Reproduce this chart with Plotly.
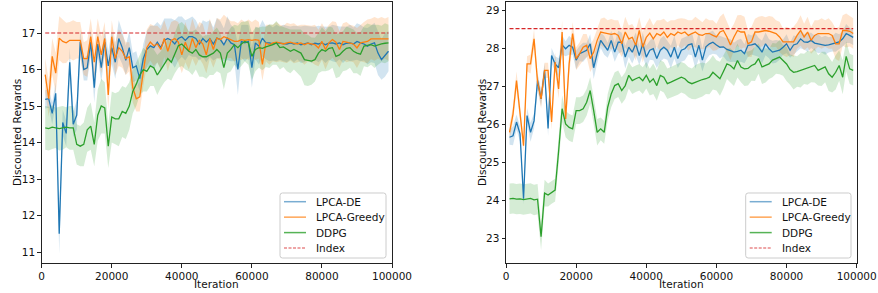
import plotly.graph_objects as go

# ---------------- data ----------------
iterations = list(range(1000, 100000, 1000))  # 99 points

series_names = ["LPCA-DE", "LPCA-Greedy", "DDPG"]
index_name = "Index"
index_left = 17.0
index_right = 28.53

left_de = [15.18,15.2,14.8,15.35,11.5,14.55,14.25,16.2,14.5,14.75,
16.75,16.0,16.05,16.75,15.5,16.7,16.05,16.75,16.1,16.6,
16.2,16.85,16.6,16.25,16.6,16.05,16.1,15.75,16.3,16.55,
16.65,16.6,16.75,16.6,16.8,16.85,16.8,16.7,16.85,16.9,
16.8,16.9,16.9,16.85,16.7,16.85,16.75,16.85,16.7,16.86,
16.82,16.68,16.86,16.73,16.68,16.0,16.77,16.73,16.77,16.05,
16.73,16.64,16.86,16.73,16.73,16.7,16.73,16.72,16.73,16.7,
16.73,16.7,16.73,16.68,16.7,16.73,16.68,16.72,16.7,16.73,
16.68,16.72,16.73,16.7,16.73,16.68,16.72,16.73,16.7,16.77,
16.73,16.7,16.64,16.7,16.73,16.45,16.27,16.4,16.5]
left_de_std = [0.25,0.25,0.3,0.3,0.55,0.35,0.35,0.4,0.35,0.4,
0.35,0.3,0.35,0.35,0.4,0.35,0.4,0.35,0.4,0.45,
0.45,0.5,0.45,0.4,0.45,0.4,0.4,0.35,0.4,0.5,
0.55,0.6,0.55,0.6,0.6,0.55,0.6,0.65,0.6,0.55,
0.55,0.5,0.55,0.5,0.45,0.5,0.55,0.5,0.45,0.55,
0.5,0.45,0.6,0.5,0.45,0.7,0.45,0.5,0.45,0.55,
0.45,0.5,0.5,0.45,0.5,0.45,0.5,0.45,0.5,0.5,
0.45,0.5,0.45,0.5,0.5,0.45,0.5,0.45,0.5,0.45,
0.5,0.45,0.5,0.5,0.45,0.5,0.45,0.5,0.45,0.5,
0.5,0.45,0.5,0.5,0.55,0.6,0.55,0.6,0.55]

left_greedy = [15.86,15.2,16.36,15.9,16.86,16.77,16.73,16.8,16.8,16.8,
16.8,16.3,16.3,16.9,16.2,16.9,16.4,16.85,15.3,16.9,
16.3,16.6,16.5,16.3,16.35,15.5,15.2,15.25,16.0,16.6,
16.75,16.65,16.7,16.55,16.85,16.5,16.8,16.85,16.75,16.4,
16.75,16.5,16.85,16.6,16.8,16.7,16.4,16.85,16.55,16.86,
16.82,16.9,16.86,16.82,16.77,16.77,16.82,16.8,16.82,16.8,
16.82,16.8,16.14,16.73,16.68,16.73,16.75,16.73,16.7,16.73,
16.75,16.72,16.7,16.73,16.68,16.72,16.7,16.68,16.59,16.77,
16.55,16.73,16.82,16.75,16.55,16.77,16.75,16.73,16.7,16.59,
16.73,16.75,16.77,16.84,16.84,16.85,16.84,16.85,16.84]
left_greedy_std = [0.45,0.5,0.5,0.55,0.6,0.6,0.55,0.5,0.55,0.5,
0.5,0.45,0.5,0.5,0.45,0.5,0.5,0.45,0.4,0.45,
0.45,0.5,0.45,0.45,0.4,0.4,0.35,0.4,0.45,0.5,
0.5,0.55,0.5,0.55,0.5,0.55,0.5,0.5,0.55,0.5,
0.55,0.5,0.55,0.5,0.5,0.55,0.5,0.55,0.5,0.55,
0.55,0.6,0.55,0.5,0.55,0.5,0.55,0.5,0.55,0.5,
0.55,0.5,0.45,0.5,0.55,0.5,0.55,0.5,0.5,0.55,
0.5,0.55,0.5,0.5,0.55,0.5,0.5,0.55,0.5,0.5,
0.55,0.5,0.5,0.55,0.5,0.5,0.55,0.5,0.5,0.55,
0.5,0.55,0.6,0.55,0.6,0.55,0.6,0.55,0.6]

left_ddpg = [14.4,14.38,14.42,14.4,14.38,14.4,14.42,14.4,14.4,13.95,
13.9,13.95,14.35,14.45,13.95,14.75,15.0,14.95,13.9,14.7,
14.65,14.65,14.85,14.8,15.0,15.4,15.6,15.85,16.0,15.95,
16.1,16.05,15.85,16.0,16.15,16.3,16.2,16.45,16.65,16.7,
16.6,16.5,16.45,16.55,16.4,16.35,16.35,16.4,16.45,16.55,
16.45,16.05,16.45,16.55,16.68,16.6,16.7,16.77,16.73,16.36,
16.55,16.6,16.58,16.62,16.64,16.68,16.73,16.6,16.62,16.55,
16.5,16.55,16.5,16.45,16.27,16.25,16.23,16.27,16.45,16.55,
16.5,16.58,16.6,16.36,16.4,16.5,16.58,16.6,16.5,16.45,
16.42,16.64,16.66,16.68,16.64,16.68,16.7,16.72,16.73]
left_ddpg_std = [0.6,0.6,0.6,0.55,0.6,0.6,0.55,0.6,0.6,0.55,
0.55,0.6,0.6,0.65,0.6,0.7,0.75,0.7,0.6,0.7,
0.7,0.75,0.7,0.7,0.65,0.6,0.6,0.55,0.6,0.55,
0.55,0.5,0.55,0.5,0.5,0.55,0.5,0.55,0.6,0.6,
0.6,0.55,0.6,0.55,0.6,0.55,0.6,0.55,0.6,0.6,
0.55,0.6,0.55,0.6,0.55,0.6,0.6,0.55,0.6,0.65,
0.6,0.55,0.6,0.55,0.6,0.55,0.6,0.6,0.55,0.6,
0.6,0.55,0.6,0.65,0.7,0.7,0.65,0.6,0.55,0.6,
0.55,0.6,0.55,0.6,0.6,0.55,0.6,0.55,0.6,0.55,
0.6,0.55,0.6,0.55,0.6,0.55,0.5,0.55,0.5]

right_de = [25.67,25.71,26.07,25.76,24.05,26.24,25.8,26.1,27.16,26.68,
27.43,25.9,27.82,27.6,27.5,28.1,28.0,28.09,28.04,27.7,
27.87,27.91,27.96,28.13,27.5,27.87,28.22,28.09,27.96,28.22,
27.91,28.17,28.17,27.78,28.04,27.91,28.13,27.82,28.13,27.78,
27.96,28.0,27.74,27.96,28.04,27.96,27.78,28.04,27.74,27.96,
28.0,28.1,28.13,27.78,28.09,27.7,28.05,28.13,28.17,28.1,
28.04,28.05,27.98,27.95,27.91,27.93,27.96,27.87,28.09,28.1,
28.13,28.04,27.91,28.13,28.0,27.91,27.93,27.96,28.04,28.13,
27.96,28.1,28.13,28.26,28.18,28.17,28.22,28.15,28.13,28.1,
28.09,28.1,28.13,28.17,28.18,28.26,28.4,28.35,28.3]
right_de_std = [0.2,0.25,0.2,0.2,0.15,0.2,0.25,0.2,0.2,0.2,
0.2,0.2,0.2,0.2,0.25,0.25,0.2,0.25,0.2,0.25,
0.2,0.25,0.2,0.25,0.3,0.25,0.2,0.25,0.2,0.25,
0.25,0.3,0.25,0.3,0.25,0.3,0.3,0.25,0.3,0.3,
0.25,0.3,0.25,0.3,0.3,0.25,0.3,0.3,0.25,0.3,
0.3,0.25,0.3,0.3,0.35,0.3,0.35,0.3,0.3,0.25,
0.3,0.25,0.3,0.3,0.25,0.3,0.3,0.25,0.3,0.25,
0.3,0.25,0.3,0.3,0.25,0.3,0.3,0.25,0.2,0.25,
0.2,0.25,0.2,0.25,0.2,0.25,0.2,0.2,0.25,0.2,
0.25,0.2,0.2,0.25,0.2,0.2,0.25,0.2,0.2]

right_greedy = [25.8,26.28,27.16,26.37,25.45,27.6,27.6,28.26,27.12,26.68,
27.43,27.43,26.07,27.65,26.94,28.44,26.15,27.6,28.4,27.74,
27.87,28.04,28.09,27.74,27.91,28.22,28.44,28.42,28.4,28.38,
28.4,28.35,28.13,28.44,28.26,28.3,28.09,28.48,28.04,28.3,
28.41,28.26,28.4,28.35,28.44,28.3,28.4,28.35,28.44,28.4,
28.44,28.35,28.4,28.44,28.37,28.35,28.4,28.4,28.35,28.31,
28.44,28.48,28.31,28.1,28.31,28.48,28.44,28.44,28.13,28.18,
28.44,28.44,28.46,28.48,28.46,28.44,28.4,28.31,28.18,28.18,
28.18,28.18,28.35,28.48,28.31,28.44,28.22,28.35,28.4,28.4,
28.4,28.4,28.35,28.13,28.13,28.48,28.48,28.46,28.4]
right_greedy_std = [0.2,0.2,0.25,0.2,0.15,0.2,0.25,0.25,0.2,0.25,
0.2,0.2,0.2,0.25,0.25,0.3,0.3,0.3,0.3,0.3,
0.3,0.35,0.3,0.35,0.35,0.3,0.35,0.4,0.35,0.4,
0.35,0.4,0.35,0.4,0.35,0.35,0.4,0.35,0.4,0.35,
0.4,0.35,0.35,0.4,0.35,0.4,0.35,0.4,0.35,0.4,
0.35,0.4,0.35,0.4,0.4,0.35,0.4,0.35,0.4,0.35,
0.4,0.45,0.4,0.4,0.35,0.4,0.45,0.4,0.35,0.4,
0.35,0.4,0.4,0.35,0.4,0.4,0.35,0.4,0.35,0.4,
0.35,0.4,0.35,0.4,0.35,0.4,0.35,0.4,0.35,0.4,
0.35,0.4,0.35,0.4,0.45,0.4,0.45,0.4,0.4]

right_ddpg = [24.05,24.06,24.04,24.05,24.03,24.05,24.06,24.02,24.04,23.05,
24.2,24.15,24.22,24.28,25.3,26.42,26.02,25.93,25.89,26.37,
26.37,26.42,26.59,26.9,26.37,25.8,25.89,25.8,26.46,26.81,
27.03,27.08,26.9,27.03,27.3,27.16,27.21,27.25,27.16,27.3,
27.12,27.21,27.03,27.3,27.25,27.08,27.12,27.16,27.19,27.25,
27.21,27.12,27.08,27.12,27.16,27.19,27.21,27.25,27.38,27.3,
27.21,27.4,27.6,27.56,27.47,27.69,27.52,27.47,27.48,27.56,
27.6,27.74,27.52,27.56,27.6,27.7,27.74,27.78,27.69,27.6,
27.45,27.38,27.4,27.43,27.47,27.5,27.52,27.56,27.43,27.47,
27.52,27.34,27.25,27.38,27.56,27.25,27.8,27.47,27.43]
right_ddpg_std = [0.4,0.4,0.4,0.4,0.4,0.4,0.4,0.4,0.4,0.35,
0.35,0.3,0.3,0.3,0.35,0.35,0.35,0.35,0.35,0.35,
0.35,0.35,0.35,0.35,0.35,0.35,0.3,0.3,0.35,0.35,
0.35,0.35,0.35,0.35,0.35,0.35,0.35,0.35,0.35,0.35,
0.35,0.4,0.4,0.4,0.4,0.4,0.4,0.4,0.4,0.4,
0.4,0.4,0.4,0.45,0.45,0.45,0.4,0.45,0.45,0.4,
0.45,0.45,0.4,0.45,0.45,0.45,0.4,0.45,0.45,0.4,
0.45,0.4,0.45,0.45,0.4,0.45,0.4,0.45,0.4,0.45,
0.4,0.45,0.4,0.45,0.4,0.45,0.4,0.45,0.4,0.45,
0.4,0.45,0.4,0.45,0.4,0.45,0.4,0.4,0.4]

x_ticks = [0, 20000, 40000, 60000, 80000, 100000]
left_y_ticks = [11, 12, 13, 14, 15, 16, 17]
right_y_ticks = [23, 24, 25, 26, 27, 28, 29]
left_y_range = [10.7, 17.85]
right_y_range = [22.36, 29.23]

# ---------------- styling ----------------
colors = ["#1f77b4", "#ff7f0e", "#2ca02c"]
fills = ["rgba(31,119,180,0.2)", "rgba(255,127,14,0.2)", "rgba(44,160,44,0.2)"]
legend_line_colors = ["rgba(31,119,180,0.6)", "rgba(255,127,14,0.7)",
                      "rgba(44,160,44,0.8)", "rgba(214,39,40,0.55)"]
index_color = "#d62728"
FONT = "DejaVu Sans"
TXT = "#111111"

W, H = 878, 293
def px_x(p):
    return p / W
def px_y(p):
    return 1 - p / H

fig = go.Figure()

panels = [
    ("x", "y", [left_de, left_greedy, left_ddpg],
     [left_de_std, left_greedy_std, left_ddpg_std], index_left),
    ("x2", "y2", [right_de, right_greedy, right_ddpg],
     [right_de_std, right_greedy_std, right_ddpg_std], index_right),
]

for xa, ya, means, stds, idx in panels:
    for k in range(3):
        upper = [m + s for m, s in zip(means[k], stds[k])]
        lower = [m - s for m, s in zip(means[k], stds[k])]
        fig.add_trace(go.Scatter(
            x=iterations + iterations[::-1], y=upper + lower[::-1],
            fill="toself", fillcolor=fills[k], line=dict(width=0),
            mode="lines", hoverinfo="skip", showlegend=False,
            xaxis=xa, yaxis=ya))
    for k in range(3):
        fig.add_trace(go.Scatter(
            x=iterations, y=means[k], mode="lines", name=series_names[k],
            line=dict(color=colors[k], width=1.3), showlegend=False,
            xaxis=xa, yaxis=ya))
    fig.add_trace(go.Scatter(
        x=iterations, y=[idx] * len(iterations), mode="lines", name=index_name,
        line=dict(color=index_color, width=1.1, dash="4px,2px"), showlegend=False,
        xaxis=xa, yaxis=ya))

axis_common = dict(
    showline=True, mirror=True, linecolor="#222", linewidth=1,
    ticks="outside", ticklen=3.5, tickcolor="#222", tickwidth=1,
    showgrid=False, zeroline=False, automargin=False,
    tickfont=dict(family=FONT, size=10.5, color=TXT),
)

left_dom_x = [px_x(41.7), px_x(392)]
right_dom_x = [px_x(506), px_x(856.7)]
dom_y = [px_y(263), px_y(2)]

annotations = [
    dict(text="Iteration", x=(left_dom_x[0] + left_dom_x[1]) / 2, y=px_y(284),
         xref="paper", yref="paper", showarrow=False, xanchor="center", yanchor="middle",
         font=dict(family=FONT, size=10.5, color=TXT)),
    dict(text="Iteration", x=(right_dom_x[0] + right_dom_x[1]) / 2, y=px_y(284),
         xref="paper", yref="paper", showarrow=False, xanchor="center", yanchor="middle",
         font=dict(family=FONT, size=10.5, color=TXT)),
    dict(text="Discounted Rewards", x=px_x(16.5), y=(dom_y[0] + dom_y[1]) / 2,
         xref="paper", yref="paper", showarrow=False, textangle=-90,
         xanchor="center", yanchor="middle", font=dict(family=FONT, size=10.5, color=TXT)),
    dict(text="Discounted Rewards", x=px_x(481.5), y=(dom_y[0] + dom_y[1]) / 2,
         xref="paper", yref="paper", showarrow=False, textangle=-90,
         xanchor="center", yanchor="middle", font=dict(family=FONT, size=10.5, color=TXT)),
]
shapes = []

# manual legends (matplotlib-like compact layout)
legend_labels = series_names + [index_name]

def rounded_box_path(x0, y0, x1, y1, r=2.5):
    def P(x, y):
        return f"{px_x(x):.5f},{px_y(y):.5f}"
    return (f"M {P(x0 + r, y0)} L {P(x1 - r, y0)} Q {P(x1, y0)} {P(x1, y0 + r)} "
            f"L {P(x1, y1 - r)} Q {P(x1, y1)} {P(x1 - r, y1)} L {P(x0 + r, y1)} "
            f"Q {P(x0, y1)} {P(x0, y1 - r)} L {P(x0, y0 + r)} Q {P(x0, y0)} {P(x0 + r, y0)} Z")

for bx0, bx1 in [(280, 386), (745.7, 851)]:
    by0, by1 = 193, 258
    shapes.append(dict(type="path", path=rounded_box_path(bx0, by0, bx1, by1),
                       xref="paper", yref="paper",
                       fillcolor="rgba(255,255,255,0.85)", line=dict(color="#cccccc", width=1),
                       layer="above"))
    lx0 = bx0 + 4
    lx1 = bx0 + 26
    tx = bx0 + 34
    for j, lab in enumerate(legend_labels):
        yy = 201.7 + j * 15.45
        shapes.append(dict(type="line", xref="paper", yref="paper",
                           x0=px_x(lx0), x1=px_x(lx1), y0=px_y(yy), y1=px_y(yy),
                           line=dict(color=legend_line_colors[j], width=1.5,
                                     dash="3px,1.5px" if j == 3 else "solid"),
                           layer="above"))
        annotations.append(dict(text=lab, x=px_x(tx), y=px_y(yy), xref="paper", yref="paper",
                                showarrow=False, xanchor="left", yanchor="middle",
                                font=dict(family=FONT, size=10.5, color=TXT)))

fig.update_layout(
    width=W, height=H,
    margin=dict(l=0, r=0, t=0, b=0, autoexpand=False),
    paper_bgcolor="white", plot_bgcolor="white",
    font=dict(family=FONT, size=10.5, color=TXT),
    showlegend=False,
    xaxis=dict(domain=left_dom_x, range=[0, 100000], tickvals=x_ticks,
               ticktext=[str(v) for v in x_ticks], anchor="y", **axis_common),
    yaxis=dict(domain=dom_y, range=left_y_range, tickvals=left_y_ticks,
               anchor="x", **axis_common),
    xaxis2=dict(domain=right_dom_x, range=[0, 100000], tickvals=x_ticks,
                ticktext=[str(v) for v in x_ticks], anchor="y2", **axis_common),
    yaxis2=dict(domain=dom_y, range=right_y_range, tickvals=right_y_ticks,
                anchor="x2", **axis_common),
    annotations=annotations,
    shapes=shapes,
)

fig.write_html("out.html",
               config={"displayModeBar": False},
               post_script="document.body.style.margin='0';document.body.style.padding='0';")
